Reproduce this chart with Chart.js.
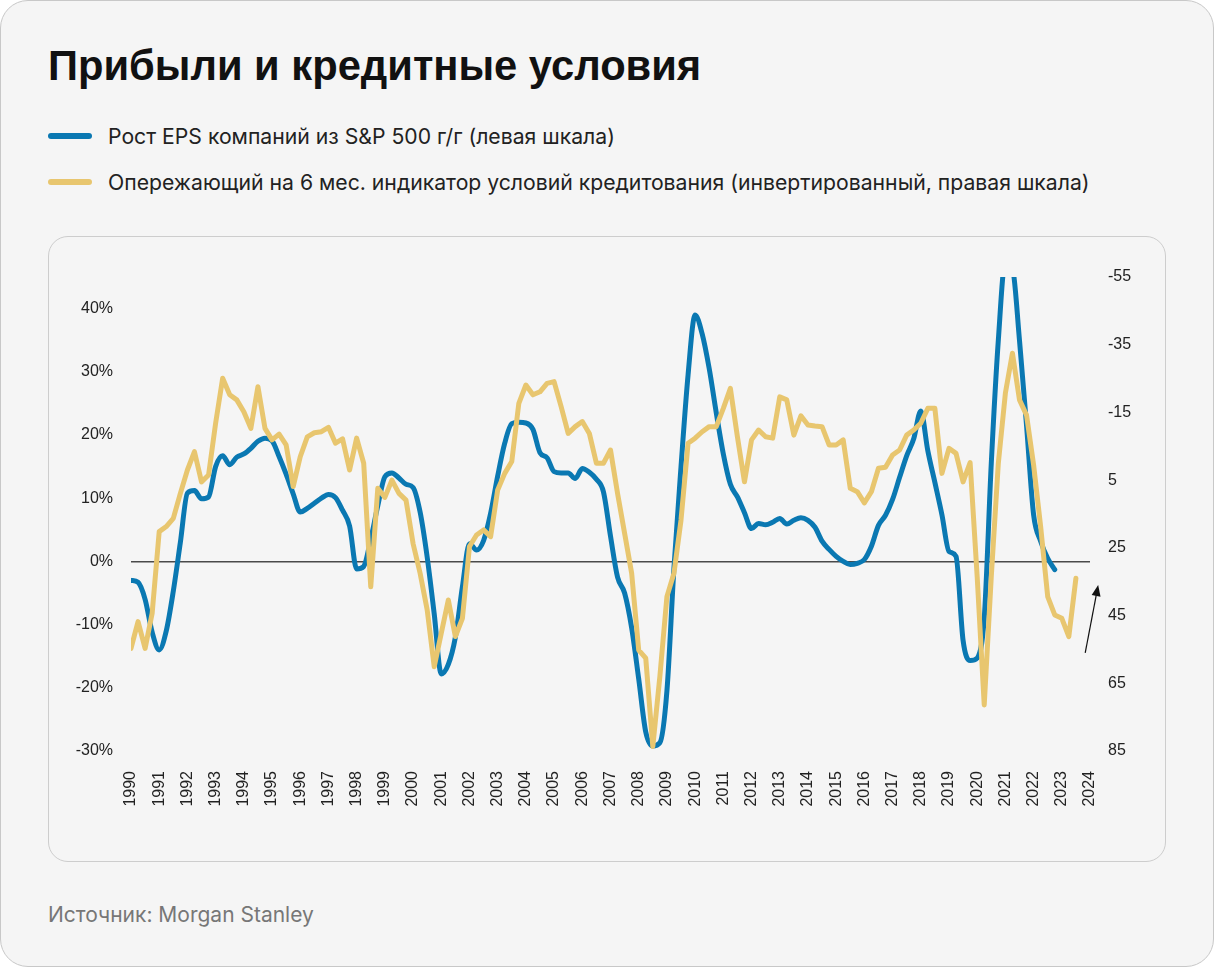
<!DOCTYPE html>
<html lang="ru">
<head>
<meta charset="utf-8">
<title>Прибыли и кредитные условия</title>
<script src="https://cdn.jsdelivr.net/npm/chart.js@4.4.1/dist/chart.umd.min.js"></script>
<style>
  html, body { margin: 0; padding: 0; background: #fff; }
  body { width: 1214px; height: 967px; position: relative; font-family: "Liberation Sans", Arial, sans-serif; }
  .card {
    position: absolute; left: 0; top: 0; width: 1212px; height: 965px;
    border: 1px solid #c8c8c8; border-radius: 28px; background: #f5f5f5;
  }
  h1 {
    position: absolute; left: 48px; top: 45px; margin: 0;
    font-size: 41.7px; line-height: 42px; font-weight: 700; color: #111;
  }
  .legend-item {
    position: absolute; left: 48px; height: 20px;
    display: flex; align-items: center;
    font-family: Inter, "Liberation Sans", sans-serif;
    font-size: 21.2px; color: #222; white-space: nowrap;
  }
  .swatch { width: 44px; height: 6px; border-radius: 3px; margin-right: 16px; }
  .plot {
    position: absolute; left: 48px; top: 236px; width: 1116px; height: 624px;
    border: 1px solid #cdcdcd; border-radius: 20px;
  }
  .plot canvas { position: absolute; left: 0; top: 0; }
  .source {
    position: absolute; left: 48px; top: 903px;
    font-family: Inter, "Liberation Sans", sans-serif;
    font-size: 21px; line-height: 24px; color: #777;
  }
</style>
</head>
<body>
<div class="card"></div>
<h1>Прибыли и кредитные условия</h1>
<div class="legend-item" style="top:126px"><span class="swatch" style="background:#0a78b2"></span>Рост EPS компаний из S&amp;P 500 г/г (левая шкала)</div>
<div class="legend-item" style="top:172px"><span class="swatch" style="background:#e8c66f"></span>Опережающий на 6 мес. индикатор условий кредитования (инвертированный, правая шкала)</div>
<div class="plot"><canvas id="chart" width="1116" height="624"></canvas></div>
<div class="source">Источник: Morgan Stanley</div>

<script>
// квартальные данные, первый квартал 1990 г.
var startYear = 1990;

// рост EPS S&P 500 г/г, %, 1990 Q1 - 2022 Q4
var epsGrowth = [
  -3.0, -3.3, -6.0, -11.2,
  -14.0, -11.0, -4.7, 3.0,
  10.8, 11.2, 9.9, 10.2,
  15.0, 16.7, 15.3, 16.5,
  17.0, 17.9, 19.0, 19.5,
  19.1, 16.6, 13.8, 10.7,
  7.8, 8.4, 9.2, 10.0,
  10.6, 10.1, 8.1, 5.6,
  -1.2, -0.8, 3.5, 8.8,
  13.4, 14.0, 13.2, 12.2,
  11.7, 7.8, 0.7, -8.3,
  -17.8, -16.3, -12.0, -4.0,
  2.8, 1.8, 3.3, 7.6,
  13.5, 18.7, 21.8, 22.0,
  21.9, 20.9, 17.2, 16.4,
  14.2, 14.0, 14.0, 13.1,
  14.7, 14.1, 13.0, 11.0,
  4.0, -2.5, -5.0, -10.5,
  -18.6, -27.0, -29.2, -28.7,
  -20.5, -1.0, 15.0, 29.5,
  39.0, 36.0, 30.5, 23.5,
  17.0, 12.2, 10.2, 7.7,
  5.2, 6.0, 5.8, 6.2,
  6.8, 5.9, 6.5, 6.9,
  6.5, 5.4, 3.2, 1.9,
  0.8, 0.0, -0.5, -0.3,
  0.3, 2.4, 5.7, 7.3,
  9.8, 13.3, 16.7, 19.4,
  23.8, 17.5, 12.5, 7.4,
  1.6, 0.8, -12.5, -15.7,
  -15.3, -9.0, 15.5, 35.0,
  47.5, 46.5, 35.0, 21.5,
  7.4, 3.2, 0.5, -1.3
];

// индикатор условий кредитования со сдвигом 6 мес., 1990 Q1 - 2023 Q3
var creditLead = [
  54.7, 46.8, 54.7, 44.3,
  20.2, 18.7, 16.3, 8.9,
  2.0, -3.4, 5.5, 3.5,
  -11.8, -25.1, -20.2, -18.7,
  -15.2, -10.3, -22.6, -10.3,
  -6.9, -8.6, -5.4, 6.9,
  -1.9, -7.8, -9.0, -9.3,
  -10.6, -5.9, -7.2, 2.0,
  -7.4, 0.0, 36.5, 7.4,
  10.1, 5.0, 8.9, 10.9,
  23.7, 32.5, 43.3, 60.1,
  50.2, 40.4, 51.2, 45.8,
  24.6, 21.2, 19.7, 21.7,
  7.9, 3.0, -0.5, -17.7,
  -23.1, -20.2, -21.1, -23.6,
  -24.1, -16.7, -8.8, -10.8,
  -12.3, -8.8, 0.0, 0.0,
  -3.9, 8.9, 20.7, 32.5,
  55.2, 57.6, 83.7, 63.0,
  39.4, 32.5, 16.8, -5.9,
  -7.4, -9.3, -10.8, -10.8,
  -16.2, -22.1, -7.8, 5.5,
  -6.9, -9.8, -7.8, -7.4,
  -19.6, -18.7, -8.3, -14.0,
  -11.3, -11.0, -10.8, -5.4,
  -5.4, -6.9, 7.4, 8.4,
  11.7, 8.4, 1.5, 1.2,
  -2.4, -3.9, -8.3, -9.8,
  -11.8, -16.2, -16.2, 3.0,
  -4.4, -2.9, 5.5, -0.2,
  33.5, 71.4, 33.5, 0.0,
  -20.7, -32.5, -18.7, -14.2,
  0.5, 18.7, 39.4, 44.8,
  45.8, 51.2, 34.0
];

var yearTicks = [1990, 1991, 1992, 1993, 1994, 1995, 1996, 1997, 1998, 1999,
                 2000, 2001, 2002, 2003, 2004, 2005, 2006, 2007, 2008, 2009,
                 2010, 2011, 2012, 2013, 2014, 2015, 2016, 2017, 2018, 2019,
                 2020, 2021, 2022, 2023, 2024];
var leftTicks = [-30, -20, -10, 0, 10, 20, 30, 40];
var rightTicks = [-55, -35, -15, 5, 25, 45, 65, 85];

function toPoints(arr) {
    return arr.map(function (v, i) { return { x: startYear + i / 4, y: v }; });
}

var tickFont = { family: '"Liberation Sans", Arial, sans-serif', size: 16 };
var tickColor = '#222';

// стрелка у правого края
var arrowPlugin = {
    id: 'arrow',
    afterDraw: function (chart) {
        var ctx = chart.ctx;
        var x = chart.scales.x, y = chart.scales.y2;
        var x0 = x.getPixelForValue(2023.83), y0 = y.getPixelForValue(56);
        var x1 = x.getPixelForValue(2024.29), y1 = y.getPixelForValue(36);
        var a = Math.atan2(y1 - y0, x1 - x0);
        ctx.save();
        ctx.strokeStyle = '#111';
        ctx.fillStyle = '#111';
        ctx.lineWidth = 1.2;
        ctx.beginPath();
        ctx.moveTo(x0, y0);
        ctx.lineTo(x1 - 8 * Math.cos(a), y1 - 8 * Math.sin(a));
        ctx.stroke();
        ctx.beginPath();
        ctx.moveTo(x1, y1);
        ctx.lineTo(x1 - 11 * Math.cos(a) + 4.5 * Math.sin(a), y1 - 11 * Math.sin(a) - 4.5 * Math.cos(a));
        ctx.lineTo(x1 - 11 * Math.cos(a) - 4.5 * Math.sin(a), y1 - 11 * Math.sin(a) + 4.5 * Math.cos(a));
        ctx.closePath();
        ctx.fill();
        ctx.restore();
    }
};

new Chart(document.getElementById('chart'), {
    type: 'line',
    data: {
        datasets: [{
            label: 'Опережающий на 6 мес. индикатор условий кредитования (инвертированный, правая шкала)',
            data: toPoints(creditLead),
            yAxisID: 'y2',
            borderColor: '#e8c66f',
            borderWidth: 5,
            pointRadius: 0,
            tension: 0,
            borderJoinStyle: 'round',
            borderCapStyle: 'round'
        }, {
            label: 'Рост EPS компаний из S&P 500 г/г (левая шкала)',
            data: toPoints(epsGrowth),
            yAxisID: 'y',
            borderColor: '#0a78b2',
            borderWidth: 5,
            pointRadius: 0,
            cubicInterpolationMode: 'monotone',
            borderJoinStyle: 'round',
            borderCapStyle: 'round'
        }]
    },
    options: {
        responsive: false,
        animation: false,
        layout: { padding: { top: 40, left: 0, right: 0, bottom: 0 } },
        plugins: {
            legend: { display: false },
            tooltip: { enabled: false }
        },
        scales: {
            x: {
                type: 'linear',
                min: 1990,
                max: 2024,
                afterFit: function (s) { s.height = 110; },
                afterBuildTicks: function (s) { s.ticks = yearTicks.map(function (v) { return { value: v }; }); },
                ticks: {
                    autoSkip: false,
                    minRotation: 90,
                    maxRotation: 90,
                    padding: 12,
                    color: tickColor,
                    font: tickFont,
                    callback: function (v) { return String(v); }
                },
                grid: { display: false },
                border: { display: false }
            },
            y: {
                position: 'left',
                min: -30,
                max: 45,
                afterFit: function (s) { s.width = 82; },
                afterBuildTicks: function (s) { s.ticks = leftTicks.map(function (v) { return { value: v }; }); },
                ticks: {
                    padding: 18,
                    color: tickColor,
                    font: tickFont,
                    callback: function (v) { return v + '%'; }
                },
                grid: {
                    drawTicks: false,
                    lineWidth: 1.5,
                    color: function (c) { return c.tick && c.tick.value === 0 ? '#4a4a4a' : 'rgba(0,0,0,0)'; }
                },
                border: { display: false }
            },
            y2: {
                position: 'right',
                reverse: true,
                min: -55,
                max: 85,
                afterFit: function (s) { s.width = 75; },
                afterBuildTicks: function (s) { s.ticks = rightTicks.map(function (v) { return { value: v }; }); },
                ticks: {
                    padding: 18,
                    color: tickColor,
                    font: tickFont
                },
                grid: { display: false, drawTicks: false },
                border: { display: false }
            }
        }
    },
    plugins: [arrowPlugin]
});
</script>
</body>
</html>
